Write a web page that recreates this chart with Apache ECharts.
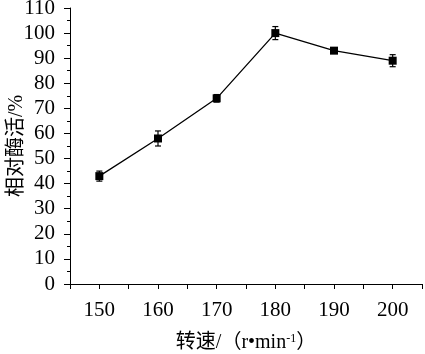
<!DOCTYPE html>
<html><head><meta charset="utf-8">
<script src="https://cdn.jsdelivr.net/npm/echarts@6/dist/echarts.min.js"></script>
<style>html,body{margin:0;padding:0;background:#fff}#c{width:425px;height:354px}</style>
</head><body><div id="c"></div>
<script>
var speeds = [150, 160, 170, 180, 190, 200];
var activity = [43, 58, 74, 100, 93, 89];
var errors = [2, 3, 1.5, 2.6, 1, 2.4];
var yTicks = [0, 10, 20, 30, 40, 50, 60, 70, 80, 90, 100, 110];

var FONT = '"Liberation Serif", "Noto Sans CJK SC", serif';
var chart = echarts.init(document.getElementById('c'), null, {renderer: 'canvas'});
var lineData = speeds.map(function (s, i) { return [s, activity[i]]; });
var errData = speeds.map(function (s, i) { return [s, activity[i] - errors[i], activity[i] + errors[i]]; });

chart.setOption({
  animation: false,
  grid: {left: 70, right: 3, top: 8, bottom: 70, containLabel: false, outerBoundsMode: 'none'},
  xAxis: {
    type: 'value', min: 145, max: 205, interval: 5,
    name: '转速/（r•min{sup|-1}）',
    nameLocation: 'middle', nameGap: 49, nameMoveOverlap: false,
    nameTextStyle: {fontFamily: FONT, fontSize: 20, color: '#000',
      rich: {sup: {fontFamily: FONT, fontSize: 12, color: '#000', verticalAlign: 'top', padding: [0, 0, 8, 0]}}},
    axisLine: {show: true, lineStyle: {color: '#000', width: 1}},
    axisTick: {show: true, length: 5, inside: false, lineStyle: {color: '#000'}},
    axisLabel: {fontFamily: FONT, fontSize: 21, color: '#000', margin: 16,
      formatter: function (v) { return v % 10 === 0 ? String(v) : ''; }},
    splitLine: {show: false}
  },
  yAxis: {
    type: 'value', min: 0, max: 110, interval: 10,
    name: '相对酶活/%',
    nameLocation: 'middle', nameGap: 43, nameRotate: 90, nameMoveOverlap: false,
    nameTextStyle: {fontFamily: FONT, fontSize: 20, color: '#000'},
    axisLine: {show: true, lineStyle: {color: '#000', width: 1}},
    axisTick: {show: true, length: 6, lineStyle: {color: '#000'}},
    minorTick: {show: true, splitNumber: 2, length: 3, lineStyle: {color: '#000'}},
    axisLabel: {fontFamily: FONT, fontSize: 21, color: '#000', margin: 15,
      formatter: function (v) { return yTicks.indexOf(v) >= 0 ? String(v) : ''; }},
    splitLine: {show: false}
  },
  series: [
    {
      type: 'line', data: lineData, symbol: 'rect', symbolSize: 8,
      lineStyle: {color: '#000', width: 1.3},
      itemStyle: {color: '#000'}, z: 3
    },
    {
      type: 'custom', data: errData, z: 4,
      renderItem: function (params, api) {
        var x = api.value(0);
        var lo = api.coord([x, api.value(1)]);
        var hi = api.coord([x, api.value(2)]);
        var w = 3;
        var st = {stroke: '#000', lineWidth: 1.2};
        return {type: 'group', children: [
          {type: 'line', shape: {x1: lo[0], y1: lo[1], x2: hi[0], y2: hi[1]}, style: st},
          {type: 'line', shape: {x1: lo[0] - w, y1: lo[1], x2: lo[0] + w, y2: lo[1]}, style: st},
          {type: 'line', shape: {x1: hi[0] - w, y1: hi[1], x2: hi[0] + w, y2: hi[1]}, style: st}
        ]};
      }
    }
  ]
});
</script></body></html>
